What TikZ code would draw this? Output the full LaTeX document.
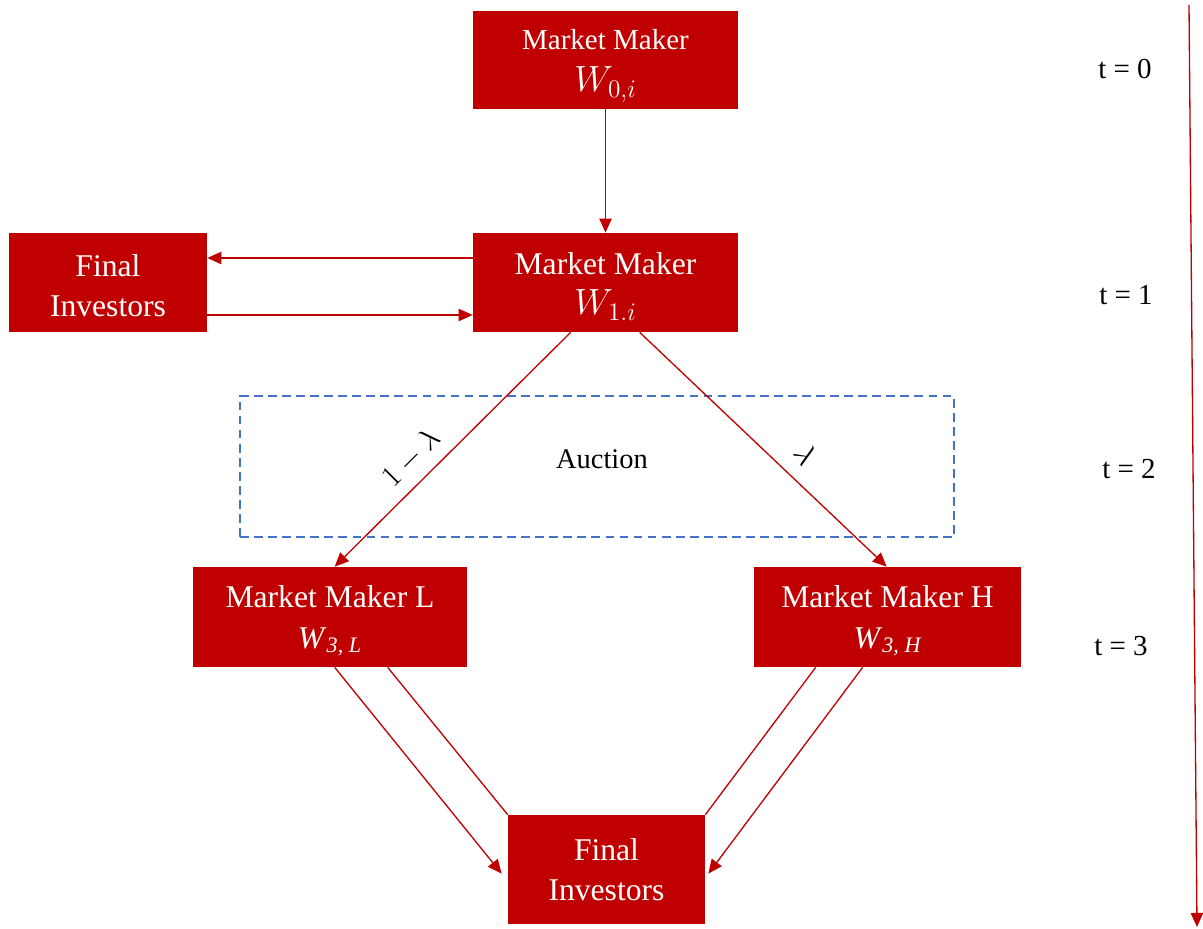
\documentclass[tikz,border=0pt]{standalone}
\usepackage{fontspec}
\setmainfont{Liberation Serif}
\usetikzlibrary{arrows.meta,calc}
\definecolor{mmred}{RGB}{192,0,0}
\definecolor{auctionblue}{RGB}{68,114,196}
\newcommand{\wlabel}[1]{{\fontsize{20}{23}\selectfont$#1$}}
\tikzset{
  mmbox/.style={fill=mmred, text=white, align=center, inner sep=0pt,
    font=\fontsize{18}{23}\selectfont},
  flow/.style={draw=mmred, line width=0.75pt, -{Triangle[length=8pt,width=7pt]}},
  link/.style={draw=mmred, line width=0.75pt},
  timelbl/.style={font=\fontsize{16.5}{20}\selectfont},
  problbl/.style={font=\fontsize{19}{22}\selectfont},
  auctionbox/.style={draw=auctionblue, line width=1.1pt, dash pattern=on 5pt off 3pt,
    minimum width=14.28cm, minimum height=2.82cm, inner sep=0pt}
}
\begin{document}
\begin{tikzpicture}[x=0.02cm,y=-0.02cm]
  \useasboundingbox (0,0) rectangle (1203,929);

  % boxes
  \node[mmbox, minimum width=5.3cm, minimum height=1.96cm, font=\fontsize{16.5}{24}\selectfont]
    (mmzero) at (605.5,60) {\rule{0pt}{18pt}Market Maker\\\wlabel{W_{0,i}}};
  \node[mmbox, minimum width=5.3cm, minimum height=1.98cm]
    (mmone) at (605.5,282.5) {\rule{0pt}{17pt}Market Maker\\\wlabel{W_{1.i}}};
  \node[mmbox, minimum width=3.96cm, minimum height=1.98cm]
    (fione) at (108,282.5) {\rule{0pt}{16pt}Final\\Investors};
  \node[mmbox, minimum width=5.48cm, minimum height=2cm]
    (mml) at (330,617) {\rule{0pt}{17pt}Market Maker L\\\textit{W}\textsubscript{\itshape 3, L}};
  \node[mmbox, minimum width=5.34cm, minimum height=2cm]
    (mmh) at (887.5,617) {\rule{0pt}{17pt}Market Maker H\\\textit{W}\textsubscript{\itshape 3, H}};
  \node[mmbox, minimum width=3.94cm, minimum height=2.18cm]
    (fitwo) at (606.5,869.5) {Final\\Investors};

  % auction
  \node[auctionbox] (auction) at (597,466.5) {};
  \node[font=\fontsize{16.2}{20}\selectfont] (auctionlbl) at (602,459) {Auction};

  % time axis
  \node[timelbl] (tzero) at (1125,69) {t = 0};
  \node[timelbl] (tone) at (1126,295) {t = 1};
  \node[timelbl] (ttwo) at (1129,469) {t = 2};
  \node[timelbl] (tthree) at (1121,646) {t = 3};
  \coordinate (tltop) at (1189,5);
  \coordinate (tlbot) at (1197,927);
  \draw[flow] (tltop) -- (tlbot);

  % connectors
  \draw[flow] (mmzero) -- (mmone);
  \draw[flow] ($(mmone.west)+(0,-24.5)$) -- ($(fione.east)+(0,-24.5)$);
  \draw[flow] ($(fione.east)+(0,32.5)$) -- ($(mmone.west)+(0,32.5)$);
  \draw[flow] ($(mmone.south west)+(98,0)$) -- ($(mml.north west)+(142,0)$);
  \draw[flow] ($(mmone.south west)+(167,0)$) -- ($(mmh.north west)+(133,0)$);
  \draw[flow] ($(mml.south west)+(142,0)$) -- ($(fitwo.north west)+(-6,59)$);
  \draw[link] ($(mml.south west)+(195,0)$) -- (fitwo.north west);
  \draw[link] ($(mmh.south west)+(62,0)$) -- (fitwo.north east);
  \draw[flow] ($(mmh.south west)+(109,0)$) -- ($(fitwo.north east)+(3,59)$);

  % probabilities
  \node[problbl, rotate=45] (plow) at (411,458) {$1-\lambda$};
  \node[problbl, rotate=-55] (phigh) at (806,455) {$\lambda$};
\end{tikzpicture}
\end{document}
